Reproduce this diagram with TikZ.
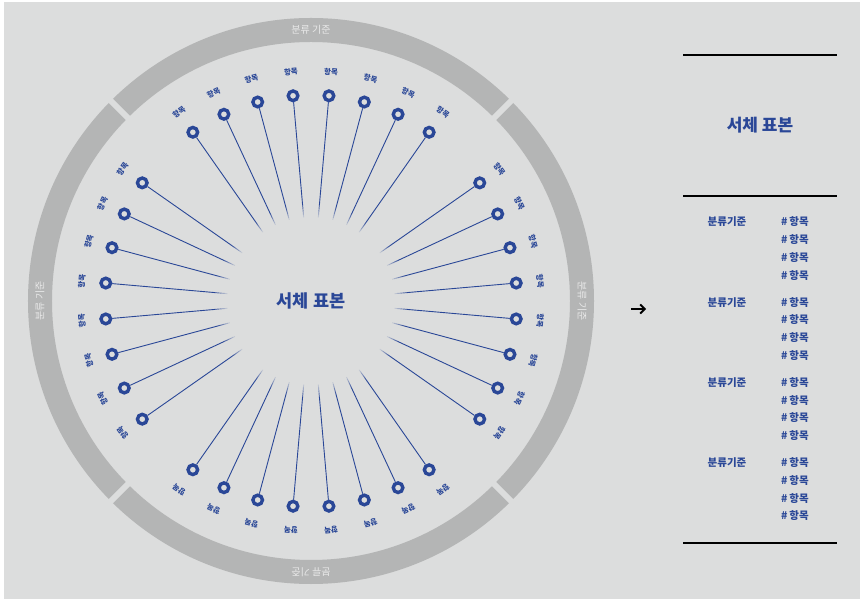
\documentclass[tikz,border=0pt]{standalone}
\usepackage{fontspec}
\setmainfont{Noto Sans CJK KR}
\usepackage{xcolor}
\usetikzlibrary{arrows.meta}
\definecolor{bgray}{HTML}{DCDDDD}
\definecolor{ringgray}{HTML}{B4B5B5}
\definecolor{inkblue}{HTML}{2A4797}

\begin{document}
\begin{tikzpicture}[x=1pt,y=1pt,
		itemdot/.style={circle, draw=inkblue, line width=3.4pt, minimum size=9.6pt, inner sep=0pt},
		itemlabel/.style={text=inkblue, font=\bfseries\fontsize{7.5}{8}\selectfont, inner sep=0pt},
		ringlabel/.style={text=white!70!ringgray, font=\fontsize{10}{11}\selectfont, inner sep=0pt},
		listtext/.style={text=inkblue, font=\bfseries\fontsize{10.5}{12}\selectfont, inner sep=0pt}]
			\useasboundingbox (-311,-303) rectangle (553,301);
			\fill[white] (-311,-303) rectangle (553,301);
			\fill[bgray] (-307,-298) rectangle (549,299); % background

			% outer ring, cut into four parts
			\draw[ringgray, line width=24pt] (0,0) circle (271);
			\foreach \a in {45,135,225,315}
			\draw[bgray, line width=6pt] (\a:255) -- (\a:290);

			% Labels on the ring
			\foreach \a in {0,90,180,270}
			\node[ringlabel, rotate=\a-90] (r\a) at (\a:271) {분류 기준};

			% Centre text
			\node[text=inkblue, font=\bfseries\fontsize{17.5}{20}\selectfont] (centre) at (0,0) {서체 표본};

			% Items round the centre
			\foreach \a in {5,15,25,35,55,65,75,85,95,105,115,125,145,155,165,175,185,195,205,215,235,245,255,265,275,285,295,305,325,335,345,355}
			{
			\node[itemdot] (p\a) at (\a:206) {};
			\coordinate (q\a) at (\a:96);
			\draw[inkblue, line width=0.9pt] (q\a) -- (p\a);
			% faded inner end
			\foreach \s in {0,...,5}
			\draw[inkblue, line width=0.9pt, opacity=(\s+1)/7] (\a:84+2*\s) -- (\a:86+2*\s);
			\node[itemlabel, rotate=\a-90] (l\a) at (\a:230) {항목};
			}

			% Arrow
			\coordinate (a1) at (320,-8);
			\coordinate (a2) at (335,-8);
			\draw[line width=1.8pt, -{Straight Barb[length=4.5pt, width=9pt]}] (a1) -- (a2);

			% Right panel
			\draw[line width=1.3pt] (372,246) -- (526,246);
			\draw[line width=1.3pt] (372,105) -- (526,105);
			\draw[line width=1.3pt] (372,-242) -- (526,-242);
			\node[text=inkblue, font=\bfseries\fontsize{17}{20}\selectfont] (title) at (449,176) {서체 표본};

			\foreach \g in {0,1,2,3}
			{
			\node[listtext] (g\g) at (416,79-80.2*\g) {분류기준};
			\foreach \r in {0,1,2,3}
			\node[listtext, anchor=west] (h\g\r) at (470,79-80.2*\g-17.8*\r) {\#\,항목};
			}
		\end{tikzpicture}
\end{document}
